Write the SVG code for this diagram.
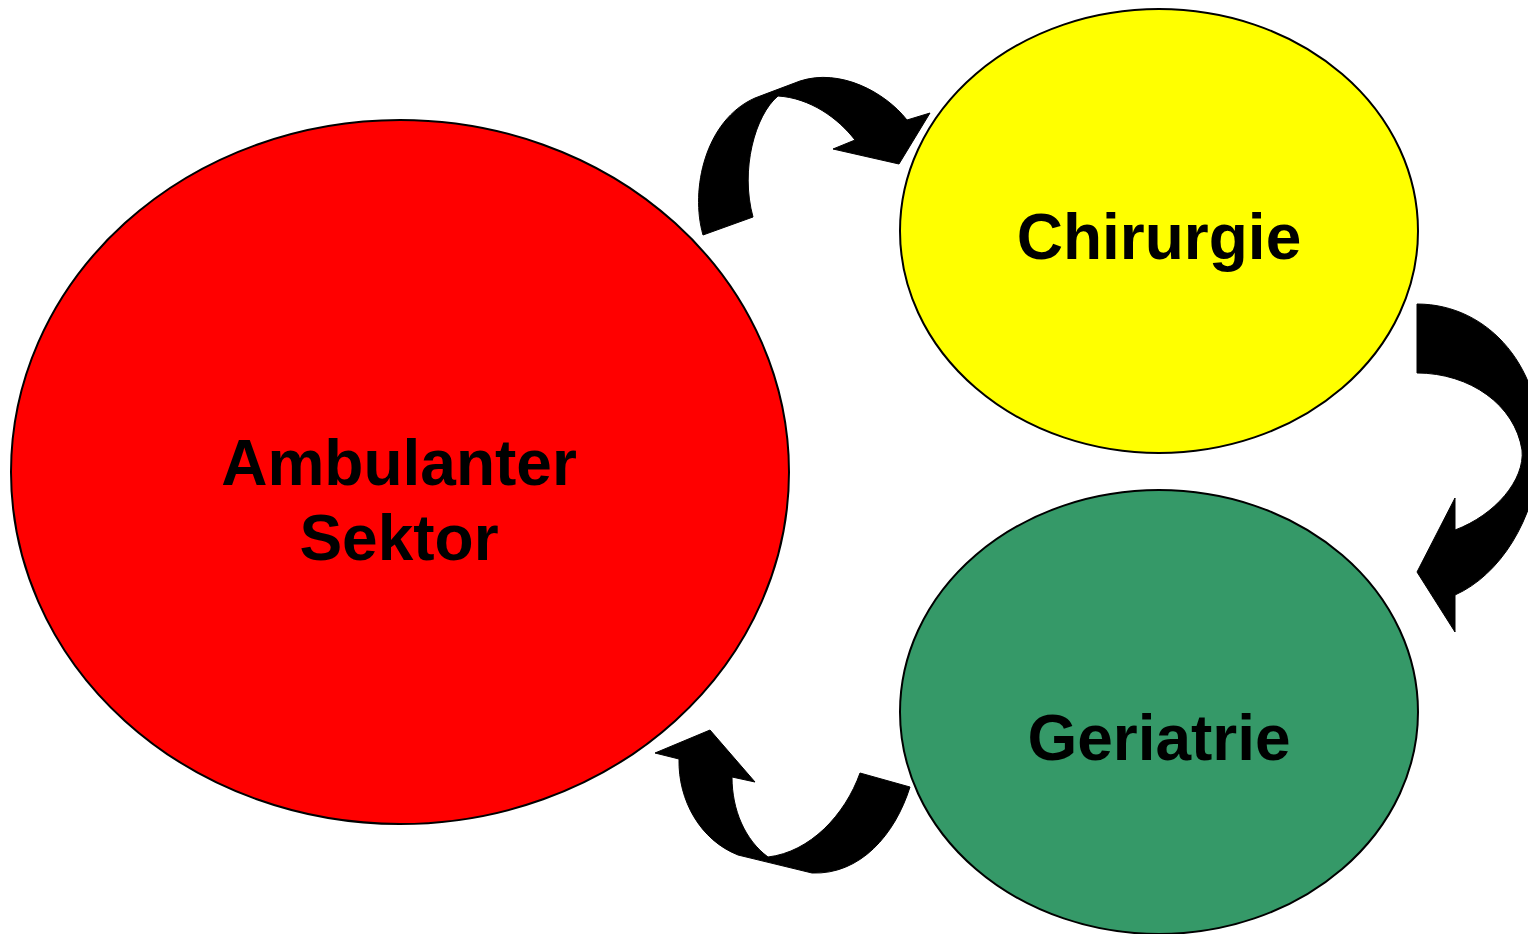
<svg xmlns="http://www.w3.org/2000/svg" width="1528" height="934" viewBox="0 0 1528 934">
<style>
.node{stroke:#000;stroke-width:2}
.lbl{font-family:"Liberation Sans",Arial,sans-serif;font-weight:bold;font-size:64px;fill:#000;text-anchor:middle}
.arr{fill:#000;stroke:#000;stroke-width:1;stroke-linejoin:miter}
</style>
<rect width="1528" height="934" fill="#fff"/>
<g id="ambulanter">
<ellipse class="node" cx="400" cy="472" rx="389" ry="352" fill="#ff0000"/>
<text class="lbl" x="399" y="485">Ambulanter</text>
<text class="lbl" x="399" y="560">Sektor</text>
</g>
<g id="chirurgie">
<ellipse class="node" cx="1159" cy="231" rx="259" ry="222" fill="#ffff00"/>
<text class="lbl" x="1159" y="259">Chirurgie</text>
</g>
<g id="geriatrie">
<ellipse class="node" cx="1159" cy="712" rx="259" ry="222" fill="#359968"/>
<text class="lbl" x="1159" y="760">Geriatrie</text>
</g>
<g id="connectors">
<path class="arr" d="M703,235 C690,190 705,120 755,98 L800,81 C840,68 885,92 907,120 L930,113 L899,164 L833,149 L855,140 C838,118 810,98 778,96 C755,115 740,170 753,217 Z"/>
<path class="arr" d="M1417,304 C1490,304 1545,370 1540,455 C1535,520 1500,575 1455,595 L1455,632 L1417,572 L1455,498 L1455,530 C1495,515 1525,480 1522,450 C1515,405 1470,373 1417,373 Z"/>
<path class="arr" d="M910,787 C895,835 860,875 812,873 L738,855 C700,840 678,800 679,759 L655,753 L710,730 L755,782 L732,777 C732,810 745,840 768,857 C810,852 845,815 860,773 Z"/>
</g>
</svg>
